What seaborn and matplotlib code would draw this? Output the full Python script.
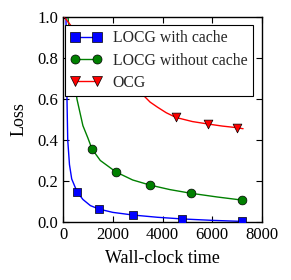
import matplotlib
matplotlib.use("Agg")
import matplotlib.pyplot as plt
from matplotlib.lines import Line2D
import seaborn as sns
import pandas as pd

# Curves
blue_t = [120, 160, 190, 260, 350, 563, 800, 1100, 1447, 2000, 2814, 3800, 4780, 6000, 7190]
blue_y = [1.0, 0.6, 0.4, 0.28, 0.21, 0.148, 0.11, 0.08, 0.063, 0.047, 0.034, 0.023, 0.015, 0.008, 0.003]
blue_mt = [563, 1447, 2814, 4780, 7190]
blue_my = [0.148, 0.063, 0.034, 0.015, 0.003]

green_t = [200, 350, 560, 800, 1000, 1166, 1500, 2130, 2800, 3500, 4300, 5150, 6200, 7190]
green_y = [1.0, 0.8, 0.6, 0.47, 0.41, 0.356, 0.30, 0.244, 0.205, 0.18, 0.158, 0.14, 0.122, 0.107]
green_mt = [1166, 2130, 3500, 5150, 7190]
green_my = [0.356, 0.244, 0.18, 0.14, 0.107]

red_t = [50, 1000, 2000, 2800, 3216, 3500, 3800, 4150, 4540, 5200, 5830, 6400, 7000, 7240]
red_y = [1.0, 0.85, 0.72, 0.66, 0.62, 0.585, 0.56, 0.533, 0.51, 0.49, 0.478, 0.468, 0.46, 0.455]
red_mt = [50, 4540, 5830, 7000]
red_my = [1.015, 0.51, 0.478, 0.46]

labels = ["LOCG with cache", "LOCG without cache", "OCG"]
xticks = [0, 2000, 4000, 6000, 8000]
yticks = [0.0, 0.2, 0.4, 0.6, 0.8, 1.0]

sns.set_style("ticks")
plt.rcParams["font.family"] = ["Liberation Serif", "DejaVu Serif"]
plt.rcParams["xtick.direction"] = "in"
plt.rcParams["ytick.direction"] = "in"

fig = plt.figure(figsize=(2.91, 2.80), dpi=100)
ax = fig.add_axes([63 / 291, 58 / 280, 199 / 291, 205 / 280])

series = [
    (blue_t, blue_y, blue_mt, blue_my, "#0000ff", "s"),
    (green_t, green_y, green_mt, green_my, "#008000", "o"),
    (red_t, red_y, red_mt, red_my, "#ff0000", "v"),
]
handles = []
for (t, y, mt, my, c, m), lab in zip(series, labels):
    df = pd.DataFrame({"t": t, "y": y})
    sns.lineplot(data=df, x="t", y="y", ax=ax, color=c, lw=1.0,
                 estimator=None, sort=False)
    dm = pd.DataFrame({"t": mt, "y": my})
    sns.scatterplot(data=dm, x="t", y="y", ax=ax, color=c, marker=m,
                    s=40, edgecolor="black", linewidth=0.5, zorder=3)
    handles.append(Line2D([], [], color=c, lw=1.0, marker=m, markersize=6.5,
                          markeredgecolor="black", markeredgewidth=0.5))

ax.set_xlim(0, 8000)
ax.set_ylim(0, 1.0)
ax.set_xticks(xticks)
ax.set_yticks(yticks)
ax.set_yticklabels([f"{v:.1f}" for v in yticks])
ax.tick_params(axis="both", which="both", top=True, right=True, length=4,
               width=0.8, labelsize=12, color="black", labelcolor="black")
for sp in ax.spines.values():
    sp.set_color("black")
    sp.set_linewidth(1.0)
ax.set_xlabel("Wall-clock time", fontsize=13, color="black", labelpad=5)
ax.set_ylabel("Loss", fontsize=13, color="black", labelpad=7)

leg = ax.legend(handles, labels, loc="upper left", bbox_to_anchor=(0.01, 0.962),
                borderaxespad=0, numpoints=2, fontsize=11.3, frameon=True,
                fancybox=False, handlelength=2.0, framealpha=1.0,
                edgecolor="black", borderpad=0.35, labelspacing=0.4,
                handletextpad=0.7)
leg.get_frame().set_linewidth(0.8)
leg.set_zorder(10)

fig.savefig("out.png", dpi=100)
